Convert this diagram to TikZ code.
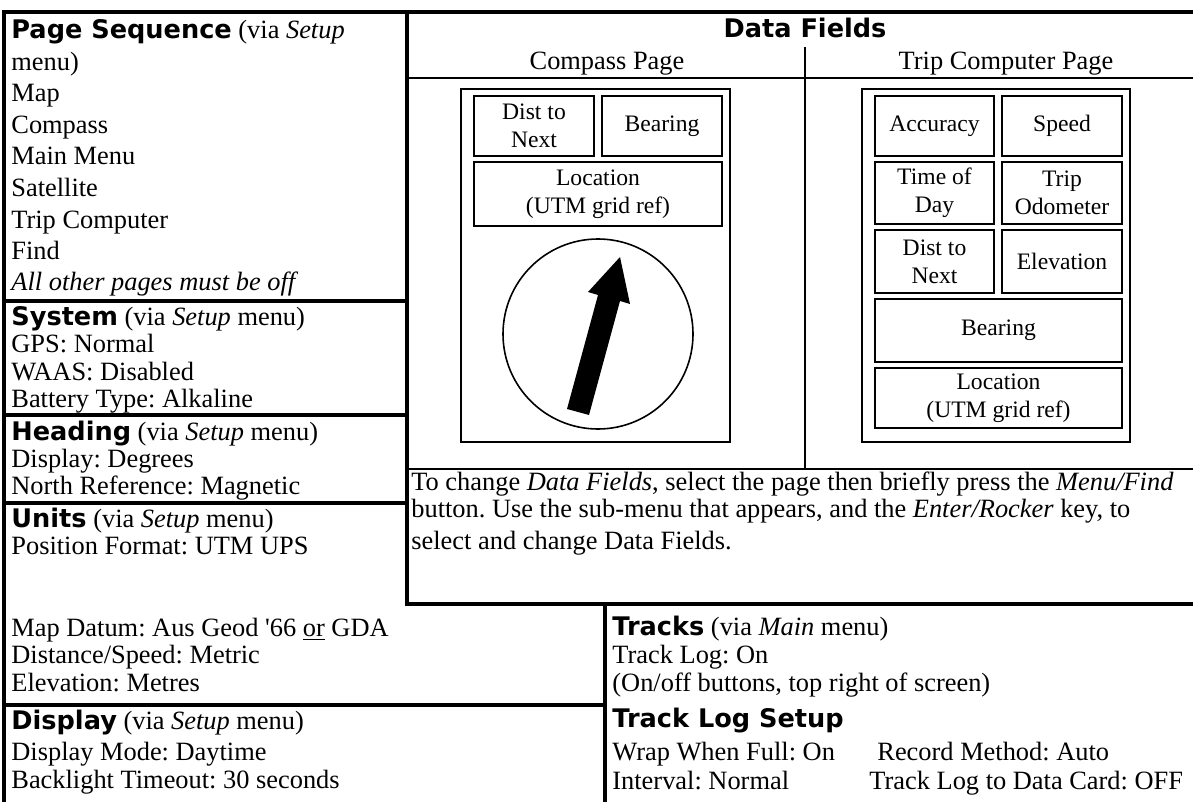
\documentclass[tikz,border=0pt]{standalone}
\usepackage{fontspec}
\setmainfont{Liberation Serif}
\newfontfamily\hdfamily{DejaVu Sans}
\frenchspacing
\newcommand{\bodysz}{\fontsize{13.2}{15}\selectfont}
\newcommand{\fldsz}{\fontsize{11.8}{14}\selectfont}
\newcommand{\hd}[1]{{\hdfamily\bfseries\fontsize{12.8}{15}\selectfont #1}}
\tikzset{
  rule/.style={line width=2.25pt},
  hair/.style={line width=0.9pt},
  unit/.style 2 args={draw, line width=0.8pt, inner sep=0pt,
    minimum width=#1, minimum height=#2},
  fld/.style 2 args={draw, line width=1.1pt, inner sep=0pt, align=center,
    font=\fldsz, minimum width=#1, minimum height=#2},
  txt/.style={anchor=base west, inner sep=0pt, font=\bodysz},
  ctr/.style={anchor=base, inner sep=0pt, font=\bodysz},
}
\begin{document}
\begin{tikzpicture}[x=0.5pt,y=-0.5pt]
  \useasboundingbox (0,0) rectangle (1193,802);
  % table rules
  \draw[rule] (4,802) -- (4,12) -- (1193,12);
  \draw[rule] (407,12) -- (407,604) -- (1193,604);
  \draw[rule] (605,604) -- (605,802);
  \draw[rule] (4,301) -- (407,301);
  \draw[rule] (4,415) -- (407,415);
  \draw[rule] (4,503) -- (407,503);
  \draw[rule] (4,705) -- (605,705);
  \draw[hair] (407,78) -- (1193,78);
  \draw[hair] (805,47) -- (805,469);
  \draw[hair] (407,469) -- (1193,469);

  % page sequence
  \node[txt] (ps0) at (11,39) {\hd{Page Sequence} (via \textit{Setup}};
  \node[txt] (ps1) at (11,70.5) {menu)};
  \node[txt] (ps2) at (11,102) {Map};
  \node[txt] (ps3) at (11,133.5) {Compass};
  \node[txt] (ps4) at (11,165) {Main Menu};
  \node[txt] (ps5) at (11,196.5) {Satellite};
  \node[txt] (ps6) at (11,228) {Trip Computer};
  \node[txt] (ps7) at (11,259.5) {Find};
  \node[txt] (ps8) at (11,291) {\textit{All other pages must be off}};

  % system, heading, units, display
  \node[txt] (sy0) at (11,325) {\hd{System} (via \textit{Setup} menu)};
  \node[txt] (sy1) at (11,352) {GPS: Normal};
  \node[txt] (sy2) at (11,380) {WAAS: Disabled};
  \node[txt] (sy3) at (11,407) {Battery Type: Alkaline};
  \node[txt] (hg0) at (11,440) {\hd{Heading} (via \textit{Setup} menu)};
  \node[txt] (hg1) at (11,467) {Display: Degrees};
  \node[txt] (hg2) at (11,494) {North Reference: Magnetic};
  \node[txt] (un0) at (11,527) {\hd{Units} (via \textit{Setup} menu)};
  \node[txt] (un1) at (11,554) {Position Format: UTM UPS};
  \node[txt] (un2) at (11,636) {Map Datum: Aus Geod \textquotesingle66 \underline{or} GDA};
  \node[txt] (un3) at (11,663) {Distance/Speed: Metric};
  \node[txt] (un4) at (11,691) {Elevation: Metres};
  \node[txt] (dp0) at (11,729) {\hd{Display} (via \textit{Setup} menu)};
  \node[txt] (dp1) at (11,760) {Display Mode: Daytime};
  \node[txt] (dp2) at (11,788) {Backlight Timeout: 30 seconds};

  % data fields
  \node[anchor=base, inner sep=0pt] (dfh) at (805,38) {\hd{Data Fields}};
  \node[ctr] (cph) at (607,70) {Compass Page};
  \node[ctr] (tph) at (1006,70) {Trip Computer Page};

  % compass page
  \node[unit={134.5pt}{176.5pt}] (cpage) at (595.5,265.5) {};
  \node[fld={60pt}{30pt}] (cdist) at (534,126) {Dist to\\Next};
  \node[fld={60pt}{30pt}] (cbear) at (662,126) {Bearing};
  \node[fld={124pt}{32pt}] (cloc) at (598,194) {Location\\(UTM grid ref)};
  \node[unit={95pt}{95pt}, circle] (dial) at (598,334) {};
  \fill (567,409) -- (589,415) -- (620,301) -- (630,304) -- (620,257)
    -- (588,292) -- (598,295) -- cycle;

  % trip computer page
  \node[unit={134pt}{176.5pt}] (tpage) at (996,265.5) {};
  \node[fld={59.5pt}{30pt}] (tacc) at (934.5,126) {Accuracy};
  \node[fld={60pt}{30pt}] (tspd) at (1062,126) {Speed};
  \node[fld={59.5pt}{31pt}] (ttod) at (934.5,193) {Time of\\Day};
  \node[fld={60pt}{31pt}] (todo) at (1062,193) {Trip\\Odometer};
  \node[fld={59.5pt}{31.5pt}] (tdist) at (934.5,261.5) {Dist to\\Next};
  \node[fld={60pt}{31.5pt}] (telev) at (1062,261.5) {Elevation};
  \node[fld={123.5pt}{31.5pt}] (tbear) at (998.5,330.5) {Bearing};
  \node[fld={123.5pt}{30pt}] (tloc) at (998.5,398) {Location\\(UTM grid ref)};

  % how to change fields
  \node[txt] (nt1) at (411,490) {To change \textit{Data Fields}, select the page then briefly press the \textit{Menu/Find}};
  \node[txt] (nt2) at (411,517) {button. Use the sub-menu that appears, and the \textit{Enter/Rocker} key, to};
  \node[txt] (nt3) at (411,549) {select and change Data Fields.};

  % tracks
  \node[txt] (tr0) at (612,635) {\hd{Tracks} (via \textit{Main} menu)};
  \node[txt] (tr1) at (612,663) {Track Log: On};
  \node[txt] (tr2) at (612,691) {(On/off buttons, top right of screen)};
  \node[txt] (tl0) at (612,727) {\hd{Track Log Setup}};
  \node[txt] (tl1) at (612,760) {Wrap When Full: On};
  \node[txt] (tl2) at (877,760) {Record Method: Auto};
  \node[txt] (tl3) at (612,789) {Interval: Normal};
  \node[txt] (tl4) at (869,789) {Track Log to Data Card: OFF};
\end{tikzpicture}
\end{document}
